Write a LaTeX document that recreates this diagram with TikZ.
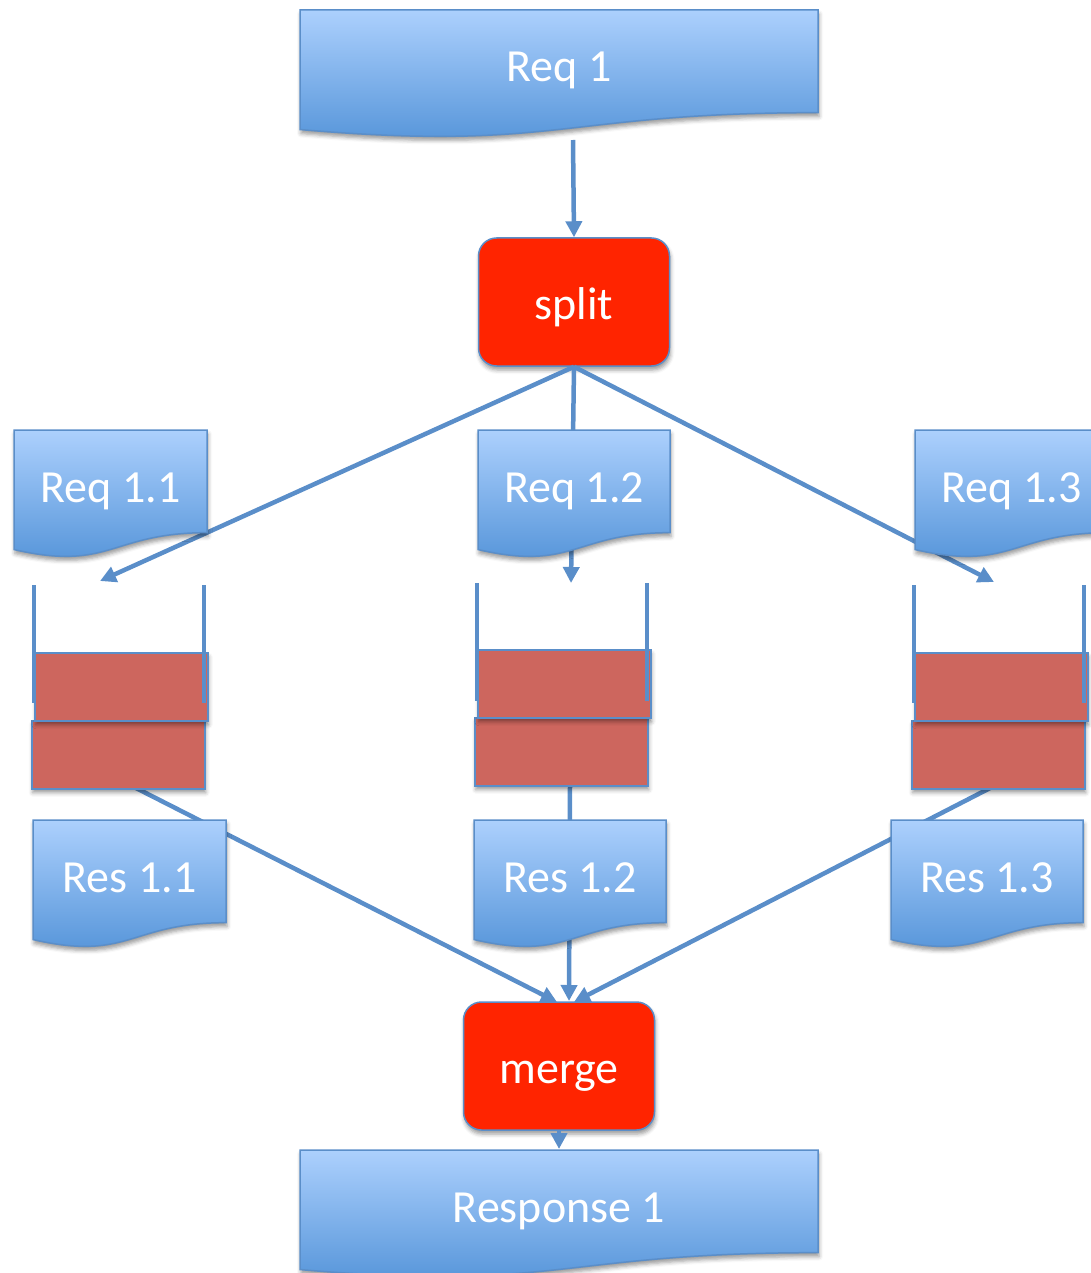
\documentclass[tikz,border=0pt]{standalone}
\usepackage{fontspec}
\setmainfont{Carlito}
\usetikzlibrary{arrows.meta,shadows.blur}

\definecolor{docTop}{RGB}{172,208,253}
\definecolor{docBot}{RGB}{80,145,215}
\definecolor{edgeBlue}{RGB}{90,142,201}
\definecolor{procRed}{RGB}{255,36,0}
\definecolor{slotRed}{RGB}{205,102,94}

\tikzset{
  softshadow/.style={blur shadow={shadow xshift=1pt, shadow yshift=-4pt,
      shadow blur radius=4pt, shadow opacity=40}},
  docfill/.style={top color=docTop, bottom color=docBot, draw=edgeBlue,
      line width=1.5pt, softshadow},
  doctext/.style={text=white, font=\fontsize{46}{55}\selectfont, anchor=base,
      inner sep=0pt},
  procbox/.style={draw=edgeBlue, line width=1.5pt, fill=procRed,
      rounded corners=18pt, minimum width=191pt, minimum height=128pt,
      text=white, font=\fontsize{46}{55}\selectfont,
      text height=34pt, text depth=0pt, softshadow},
  slotbox/.style={draw=edgeBlue, line width=1.5pt, fill=slotRed,
      minimum width=173pt, minimum height=68pt, inner sep=0pt, softshadow},
  wall/.style={draw=edgeBlue, line width=4.5pt},
  conn/.style={draw=edgeBlue, line width=4.5pt,
      -{Triangle[length=16pt,width=16pt]}},
}

% document shape: name, left x, top y, width, height, label
\newcommand\docshape[6]{%
  \path[docfill] (#2,#3) -- (#2+#4,#3) -- (#2+#4,#3+0.802*#5)
    .. controls (#2+0.5*#4,#3+0.802*#5) and (#2+0.5*#4,#3+1.1075*#5)
    .. (#2,#3+0.934*#5) -- cycle;
  \node[doctext] (#1) at (#2+0.5*#4,#3+72) {#6};%
}

% queue: name prefix, left x, wall top, slot top
\newcommand\queue[4]{%
  \node[slotbox, anchor=north west] (#1b) at (#2-3,#4+68) {};
  \node[slotbox, anchor=north west] (#1a) at (#2,#4) {};
  \draw[wall] (#2,#3) -- (#2,#3+118);
  \draw[wall] (#2+170,#3) -- (#2+170,#3+118);
}

\begin{document}
\begin{tikzpicture}[x=1pt,y=-1pt]
\useasboundingbox (0,0) rectangle (1090,1273);

% processing steps
\node[procbox] (split) at (574,302) {split};
\node[procbox] (merge) at (559,1066) {merge};

% connector end points
\coordinate (req1-out) at (573,140);
\coordinate (q1-in) at (100,581);
\coordinate (q2-in) at (571,583);
\coordinate (q3-in) at (994,582);
\coordinate (q1-out) at (132,786);
\coordinate (q2-out) at (570,786);
\coordinate (q3-out) at (994,786);
\coordinate (m-in1) at (557,1002);
\coordinate (m-in2) at (569,1001);
\coordinate (m-in3) at (574,1002);
\coordinate (resp-in) at (559,1149);

% connectors (behind the documents)
\draw[conn] (req1-out) -- (split.north);
\draw[conn] (split.south) -- (q1-in);
\draw[conn] (split.south) -- (q2-in);
\draw[conn] (split.south) -- (q3-in);
\draw[conn] (q1-out) -- (m-in1);
\draw[conn] (q2-out) -- (m-in2);
\draw[conn] (q3-out) -- (m-in3);
\draw[conn] (merge.south) -- (resp-in);

% queues
\queue{q1}{34}{585}{652}
\queue{q2}{477}{583}{649}
\queue{q3}{914}{585}{652}

% documents
\docshape{req1}{300}{10}{518}{128}{Req 1}
\docshape{req11}{14}{430}{193}{128}{Req 1.1}
\docshape{req12}{478}{430}{192}{128}{Req 1.2}
\docshape{req13}{915}{430}{193}{128}{Req 1.3}
\docshape{res11}{33}{820}{193}{128}{Res 1.1}
\docshape{res12}{474}{820}{192}{128}{Res 1.2}
\docshape{res13}{891}{820}{192}{128}{Res 1.3}
\docshape{resp1}{300}{1150}{518}{128}{Response 1}
\end{tikzpicture}
\end{document}
